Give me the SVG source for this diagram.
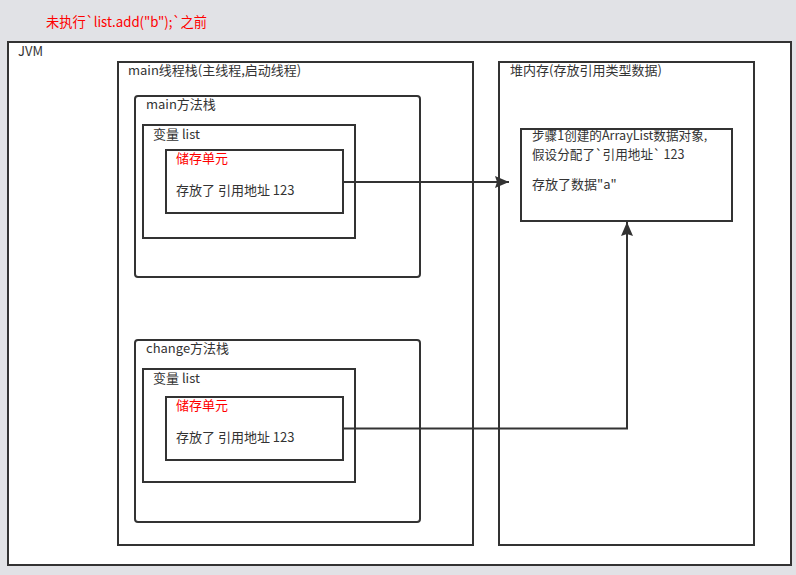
<svg xmlns="http://www.w3.org/2000/svg" width="796" height="575" viewBox="0 0 796 575">
<style>
.box{fill:#fff;stroke:#333;stroke-width:2}
.t{font-family:"Noto Sans CJK SC","Microsoft YaHei",sans-serif;font-size:13px;fill:#333}
.r{fill:#f00}
.ln{fill:none;stroke:#333;stroke-width:2}
</style>
<defs>
<marker id="ah2" viewBox="0 0 14 12" refX="14" refY="6" markerWidth="14" markerHeight="12" markerUnits="userSpaceOnUse" orient="auto">
<path d="M0,0 L14,6 L0,12 L2,6 Z" fill="#333"/>
</marker>
</defs>
<rect x="0" y="0" width="796" height="575" fill="#e1e2e6"/>
<text x="46" y="27" class="t r" style="font-size:14px" textLength="161" lengthAdjust="spacingAndGlyphs">未执行`list.add("b");`之前</text>
<g id="jvm">
<rect class="box" x="8" y="42" width="783" height="523"/>
<text x="18" y="56" class="t">JVM</text>
</g>
<g id="main-thread-stack">
<rect class="box" x="118" y="62" width="355" height="483"/>
<text x="128" y="75" class="t">main线程栈(主线程,启动线程)</text>
</g>
<g id="heap">
<rect class="box" x="499" y="62" width="255" height="483"/>
<text x="510" y="75" class="t">堆内存(存放引用类型数据)</text>
</g>
<g id="main-method-stack">
<rect class="box" x="135" y="96" width="285" height="181" rx="3"/>
<text x="146" y="109" class="t">main方法栈</text>
</g>
<g id="main-var-list">
<rect class="box" x="143" y="125" width="212" height="113"/>
<text x="153" y="139" class="t">变量 list</text>
</g>
<g id="main-storage">
<rect class="box" x="166" y="150" width="177" height="63"/>
<text x="176" y="163" class="t r">储存单元</text>
<text x="176" y="195" class="t">存放了 引用地址 123</text>
</g>
<g id="heap-object">
<rect class="box" x="521" y="129" width="211" height="92"/>
<text x="532" y="140" class="t" style="font-size:12.6px">步骤1创建的ArrayList数据对象,</text>
<text x="532" y="158.5" class="t" style="font-size:12.6px">假设分配了`引用地址` 123</text>
<text x="532" y="189" class="t">存放了数据"a"</text>
</g>
<g id="change-method-stack">
<rect class="box" x="135" y="340" width="285" height="182" rx="3"/>
<text x="146" y="353" class="t">change方法栈</text>
</g>
<g id="change-var-list">
<rect class="box" x="143" y="369" width="212" height="113"/>
<text x="153" y="383" class="t">变量 list</text>
</g>
<g id="change-storage">
<rect class="box" x="166" y="397" width="177" height="63"/>
<text x="176" y="410" class="t r">储存单元</text>
<text x="176" y="442" class="t">存放了 引用地址 123</text>
</g>
<g id="connectors">
<path class="ln" d="M343,182 L509,182" marker-end="url(#ah2)"/>
<path class="ln" d="M343,428.5 L627,428.5 L627,222" marker-end="url(#ah2)" style="stroke-linejoin:miter"/>
</g>
</svg>
